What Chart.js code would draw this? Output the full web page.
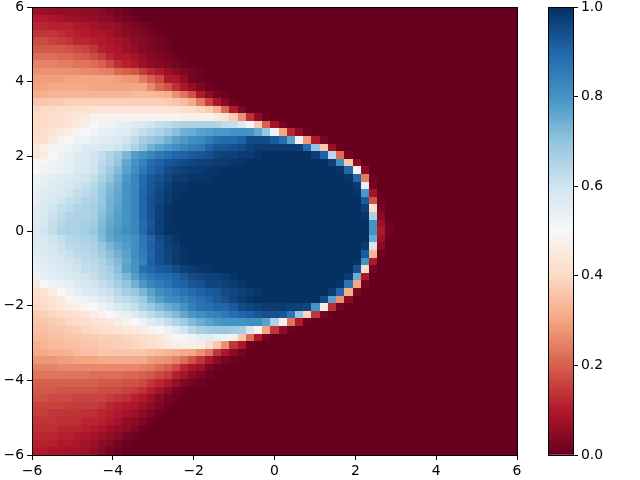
<!DOCTYPE html>
<html>
<head>
<meta charset="utf-8">
<style>
html,body{margin:0;padding:0;background:#fff;overflow:hidden}
canvas{position:absolute;top:0}
#heat{left:0}
#bar{left:520px}
</style>
<script src="https://cdn.jsdelivr.net/npm/chart.js@4/dist/chart.umd.js"></script>
</head>
<body>
<canvas id="heat" width="640" height="480"></canvas>
<canvas id="bar" width="120" height="480"></canvas>
<script>
// 59 x 59 cells between -6 and 6, same edges on both axes
const cellEdges=[-6,-5.797,-5.593,-5.39,-5.186,-4.983,-4.78,-4.576,-4.373,-4.169,-3.966,-3.763,-3.559,-3.356,-3.153,-2.949,-2.746,-2.542,-2.339,-2.136,-1.932,-1.729,-1.525,-1.322,-1.119,-0.915,-0.712,-0.508,-0.305,-0.102,0.102,0.305,0.508,0.712,0.915,1.119,1.322,1.525,1.729,1.932,2.136,2.339,2.542,2.746,2.949,3.153,3.356,3.559,3.763,3.966,4.169,4.373,4.576,4.78,4.983,5.186,5.39,5.593,5.797,6];
const axisTicks=[-6,-4,-2,0,2,4,6];
const barTicks=[0,0.2,0.4,0.6,0.8,1];
const stopValues=[0,0.1,0.2,0.3,0.4,0.5,0.6,0.7,0.8,0.9,1];
const stopColors=['#67001f','#b2182b','#d6604d','#f4a582','#fddbc7','#f7f7f7','#d1e5f0','#92c5de','#4393c3','#2166ac','#053061'];

// cell values in hundredths, top row (y=6) first
const row00=[7,7,6,6,6,6,5,5,4,3, 2,1,0,0,0,0,0,0,0,0, 0,0,0,0,0,0,0,0,0,0, 0,0,0,0,0,0,0,0,0,0, 0,0,0,0,0,0,0,0,0,0, 0,0,0,0,0,0,0,0,0];
const row01=[10,10,9,8,7,7,6,6,5,5, 3,2,1,0,0,0,0,0,0,0, 0,0,0,0,0,0,0,0,0,0, 0,0,0,0,0,0,0,0,0,0, 0,0,0,0,0,0,0,0,0,0, 0,0,0,0,0,0,0,0,0];
const row02=[12,12,11,11,11,10,9,8,7,7, 6,4,3,2,1,0,0,0,0,0, 0,0,0,0,0,0,0,0,0,0, 0,0,0,0,0,0,0,0,0,0, 0,0,0,0,0,0,0,0,0,0, 0,0,0,0,0,0,0,0,0];
const row03=[14,14,14,13,12,11,10,9,9,8, 6,5,4,3,2,1,0,0,0,0, 0,0,0,0,0,0,0,0,0,0, 0,0,0,0,0,0,0,0,0,0, 0,0,0,0,0,0,0,0,0,0, 0,0,0,0,0,0,0,0,0];
const row04=[17,17,16,15,14,12,12,11,10,9, 8,7,5,4,3,2,1,0,0,0, 0,0,0,0,0,0,0,0,0,0, 0,0,0,0,0,0,0,0,0,0, 0,0,0,0,0,0,0,0,0,0, 0,0,0,0,0,0,0,0,0];
const row05=[19,19,19,19,18,17,16,14,11,10, 9,7,6,4,3,2,1,0,0,0, 0,0,0,0,0,0,0,0,0,0, 0,0,0,0,0,0,0,0,0,0, 0,0,0,0,0,0,0,0,0,0, 0,0,0,0,0,0,0,0,0];
const row06=[22,22,22,21,21,20,19,17,15,12, 10,10,8,6,4,3,2,1,0,0, 0,0,0,0,0,0,0,0,0,0, 0,0,0,0,0,0,0,0,0,0, 0,0,0,0,0,0,0,0,0,0, 0,0,0,0,0,0,0,0,0];
const row07=[25,25,25,24,24,23,23,22,20,17, 13,11,10,7,5,4,3,2,1,0, 0,0,0,0,0,0,0,0,0,0, 0,0,0,0,0,0,0,0,0,0, 0,0,0,0,0,0,0,0,0,0, 0,0,0,0,0,0,0,0,0];
const row08=[27,27,27,27,27,27,26,26,25,24, 21,20,19,15,12,10,7,5,3,2, 1,0,0,0,0,0,0,0,0,0, 0,0,0,0,0,0,0,0,0,0, 0,0,0,0,0,0,0,0,0,0, 0,0,0,0,0,0,0,0,0];
const row09=[29,29,29,29,30,30,30,30,30,30, 29,28,28,24,20,17,10,9,6,2, 1,0,0,0,0,0,0,0,0,0, 0,0,0,0,0,0,0,0,0,0, 0,0,0,0,0,0,0,0,0,0, 0,0,0,0,0,0,0,0,0];
const row10=[30,30,31,31,31,31,31,30,30,30, 30,30,30,30,26,21,18,13,9,6, 3,1,0,0,0,0,0,0,0,0, 0,0,0,0,0,0,0,0,0,0, 0,0,0,0,0,0,0,0,0,0, 0,0,0,0,0,0,0,0,0];
const row11=[32,32,33,33,33,33,33,33,33,33, 33,33,34,34,34,33,32,27,23,18, 10,5,2,1,0,0,0,0,0,0, 0,0,0,0,0,0,0,0,0,0, 0,0,0,0,0,0,0,0,0,0, 0,0,0,0,0,0,0,0,0];
const row12=[36,36,37,37,38,38,38,38,38,38, 38,38,38,38,38,38,37,36,34,31, 24,16,9,4,1,0,0,0,0,0, 0,0,0,0,0,0,0,0,0,0, 0,0,0,0,0,0,0,0,0,0, 0,0,0,0,0,0,0,0,0];
const row13=[39,40,40,41,41,42,42,43,43,43, 43,44,44,44,44,43,43,43,42,41, 39,37,32,21,10,3,0,0,0,0, 0,0,0,0,0,0,0,0,0,0, 0,0,0,0,0,0,0,0,0,0, 0,0,0,0,0,0,0,0,0];
const row14=[40,40,41,42,43,44,45,47,48,48, 48,48,48,48,48,48,48,48,47,47, 47,48,45,42,37,27,13,5,1,0, 0,0,0,0,0,0,0,0,0,0, 0,0,0,0,0,0,0,0,0,0, 0,0,0,0,0,0,0,0,0];
const row15=[40,40,41,42,43,45,47,50,52,53, 54,55,57,58,60,62,63,65,66,66, 66,66,65,63,62,57,51,37,20,8, 2,0,0,0,0,0,0,0,0,0, 0,0,0,0,0,0,0,0,0,0, 0,0,0,0,0,0,0,0,0];
const row16=[40,41,43,45,47,49,50,52,54,55, 56,57,60,62,64,66,68,71,74,75, 77,78,79,79,80,80,80,76,69,52, 30,12,5,1,0,0,0,0,0,0, 0,0,0,0,0,0,0,0,0,0, 0,0,0,0,0,0,0,0,0];
const row17=[41,42,45,48,50,52,53,55,56,57, 58,60,63,67,69,71,74,77,79,81, 82,85,88,89,89,91,95,95,95,92, 88,77,52,28,10,2,0,0,0,0, 0,0,0,0,0,0,0,0,0,0, 0,0,0,0,0,0,0,0,0];
const row18=[44,47,49,51,53,54,56,57,58,58, 60,62,66,70,74,77,79,81,83,85, 86,90,93,93,94,95,97,98,98,98, 98,98,97,89,70,36,7,1,0,0, 0,0,0,0,0,0,0,0,0,0, 0,0,0,0,0,0,0,0,0];
const row19=[44,46,50,52,54,56,58,60,62,65, 68,73,78,80,83,86,88,90,91,92, 93,94,96,97,97,98,98,99,100,100, 100,100,100,100,97,91,64,22,2,0, 0,0,0,0,0,0,0,0,0,0, 0,0,0,0,0,0,0,0,0];
const row20=[49,51,52,54,55,57,58,60,63,66, 70,76,80,84,89,91,93,94,95,96, 97,97,98,98,99,99,100,100,100,100, 100,100,100,100,100,100,97,81,36,5, 0,0,0,0,0,0,0,0,0,0, 0,0,0,0,0,0,0,0,0];
const row21=[50,52,53,54,55,57,58,60,64,68, 72,77,81,86,90,92,95,96,97,98, 98,99,99,100,100,100,100,100,100,100, 100,100,100,100,100,100,100,99,90,48, 5,0,0,0,0,0,0,0,0,0, 0,0,0,0,0,0,0,0,0];
const row22=[53,54,55,56,57,59,60,62,66,70, 74,79,83,89,92,94,96,98,98,99, 99,99,100,100,100,100,100,100,100,100, 100,100,100,100,100,100,100,100,99,90, 24,1,0,0,0,0,0,0,0,0, 0,0,0,0,0,0,0,0,0];
const row23=[54,55,56,57,59,60,62,64,68,72, 75,80,83,89,93,95,97,99,99,100, 100,100,100,100,100,100,100,100,100,100, 100,100,100,100,100,100,100,100,100,98, 55,2,0,0,0,0,0,0,0,0, 0,0,0,0,0,0,0,0,0];
const row24=[55,56,57,58,60,62,63,65,69,73, 76,80,83,90,93,96,98,99,100,100, 100,100,100,100,100,100,100,100,100,100, 100,100,100,100,100,100,100,100,100,99, 79,8,0,0,0,0,0,0,0,0, 0,0,0,0,0,0,0,0,0];
const row25=[55,57,58,60,62,63,65,66,69,74, 76,80,83,90,94,96,98,100,100,100, 100,100,100,100,100,100,100,100,100,100, 100,100,100,100,100,100,100,100,100,100, 92,18,1,0,0,0,0,0,0,0, 0,0,0,0,0,0,0,0,0];
const row26=[56,58,60,62,63,65,66,67,70,74, 77,80,83,90,94,97,99,100,100,100, 100,100,100,100,100,100,100,100,100,100, 100,100,100,100,100,100,100,100,100,100, 97,41,2,0,0,0,0,0,0,0, 0,0,0,0,0,0,0,0,0];
const row27=[56,58,61,63,65,66,66,67,71,75, 78,80,83,90,94,97,99,100,100,100, 100,100,100,100,100,100,100,100,100,100, 100,100,100,100,100,100,100,100,100,100, 99,66,5,0,0,0,0,0,0,0, 0,0,0,0,0,0,0,0,0];
const row28=[57,59,62,64,66,66,67,68,72,76, 78,80,83,89,93,97,99,100,100,100, 100,100,100,100,100,100,100,100,100,100, 100,100,100,100,100,100,100,100,100,100, 100,80,7,1,0,0,0,0,0,0, 0,0,0,0,0,0,0,0,0];
const row29=[57,60,62,65,66,66,67,69,73,77, 79,81,83,89,94,97,100,100,100,100, 100,100,100,100,100,100,100,100,100,100, 100,100,100,100,100,100,100,100,100,100, 100,80,10,1,0,0,0,0,0,0, 0,0,0,0,0,0,0,0,0];
const row30=[57,58,60,62,64,65,66,67,72,76, 78,79,81,86,90,95,97,99,100,100, 100,100,100,100,100,100,100,100,100,100, 100,100,100,100,100,100,100,100,100,100, 100,75,7,0,0,0,0,0,0,0, 0,0,0,0,0,0,0,0,0];
const row31=[57,58,59,61,63,64,65,66,69,73, 76,78,81,86,91,94,97,98,100,100, 100,100,100,100,100,100,100,100,100,100, 100,100,100,100,100,100,100,100,100,100, 98,59,4,0,0,0,0,0,0,0, 0,0,0,0,0,0,0,0,0];
const row32=[56,57,58,60,61,63,64,65,68,71, 74,77,81,85,90,94,96,98,99,100, 100,100,100,100,100,100,100,100,100,100, 100,100,100,100,100,100,100,100,100,100, 92,33,1,0,0,0,0,0,0,0, 0,0,0,0,0,0,0,0,0];
const row33=[55,56,57,59,60,61,63,64,66,69, 72,76,80,84,91,94,96,98,99,100, 100,100,100,100,100,100,100,100,100,100, 100,100,100,100,100,100,100,100,100,99, 80,10,0,0,0,0,0,0,0,0, 0,0,0,0,0,0,0,0,0];
const row34=[54,55,56,58,59,60,62,63,65,67, 71,77,80,88,90,92,93,95,97,98, 99,99,100,100,100,100,100,100,100,100, 100,100,100,100,100,100,100,100,100,94, 40,2,0,0,0,0,0,0,0,0, 0,0,0,0,0,0,0,0,0];
const row35=[53,54,55,56,58,59,60,62,64,66, 69,73,78,83,86,88,89,91,93,95, 96,97,97,98,99,100,100,100,100,100, 100,100,100,100,100,100,100,100,98,75, 10,0,0,0,0,0,0,0,0,0, 0,0,0,0,0,0,0,0,0];
const row36=[45,50,52,54,55,57,59,60,62,64, 67,70,74,79,83,85,87,90,91,93, 94,96,96,97,98,99,100,100,100,100, 100,100,100,100,100,100,100,99,87,30, 2,0,0,0,0,0,0,0,0,0, 0,0,0,0,0,0,0,0,0];
const row37=[41,43,46,50,53,55,57,58,60,61, 64,67,69,73,77,81,83,85,87,89, 91,92,93,95,96,97,98,99,100,100, 100,100,100,100,100,100,98,90,32,3, 0,0,0,0,0,0,0,0,0,0, 0,0,0,0,0,0,0,0,0];
const row38=[40,41,43,45,49,51,53,54,56,59, 62,63,65,68,74,78,81,82,84,86, 88,90,92,94,96,98,99,100,100,100, 100,100,100,100,100,95,77,27,5,0, 0,0,0,0,0,0,0,0,0,0, 0,0,0,0,0,0,0,0,0];
const row39=[39,40,42,44,46,47,49,50,53,55, 58,60,62,66,69,72,75,77,80,84, 87,88,90,90,92,95,96,97,98,98, 98,97,97,96,80,47,13,2,0,0, 0,0,0,0,0,0,0,0,0,0, 0,0,0,0,0,0,0,0,0];
const row40=[37,38,39,40,41,42,44,46,48,50, 52,54,57,60,63,66,69,72,76,79, 81,83,84,86,88,90,91,93,94,94, 93,87,70,39,14,2,0,0,0,0, 0,0,0,0,0,0,0,0,0,0, 0,0,0,0,0,0,0,0,0];
const row41=[36,36,37,38,39,40,41,42,43,44, 46,48,50,53,56,59,62,65,68,72, 75,77,79,80,80,80,81,81,77,66, 47,23,10,1,0,0,0,0,0,0, 0,0,0,0,0,0,0,0,0,0, 0,0,0,0,0,0,0,0,0];
const row42=[35,35,36,36,37,38,39,40,41,42, 43,44,45,46,48,50,53,56,60,64, 67,68,69,69,68,67,59,48,30,14, 5,1,0,0,0,0,0,0,0,0, 0,0,0,0,0,0,0,0,0,0, 0,0,0,0,0,0,0,0,0];
const row43=[34,34,35,35,36,36,37,37,38,38, 38,39,40,41,42,44,47,49,51,53, 55,56,54,52,47,36,22,10,2,0, 0,0,0,0,0,0,0,0,0,0, 0,0,0,0,0,0,0,0,0,0, 0,0,0,0,0,0,0,0,0];
const row44=[32,33,34,34,35,35,36,36,37,37, 38,38,39,40,41,43,45,46,47,47, 46,41,36,27,14,9,1,0,0,0, 0,0,0,0,0,0,0,0,0,0, 0,0,0,0,0,0,0,0,0,0, 0,0,0,0,0,0,0,0,0];
const row45=[31,31,32,32,33,34,35,35,36,36, 36,36,36,36,35,34,33,32,31,30, 27,23,14,9,5,2,0,0,0,0, 0,0,0,0,0,0,0,0,0,0, 0,0,0,0,0,0,0,0,0,0, 0,0,0,0,0,0,0,0,0];
const row46=[28,28,28,29,29,30,30,30,31,31, 31,31,31,31,29,28,27,25,22,18, 14,9,5,2,1,0,0,0,0,0, 0,0,0,0,0,0,0,0,0,0, 0,0,0,0,0,0,0,0,0,0, 0,0,0,0,0,0,0,0,0];
const row47=[25,25,25,26,26,26,26,26,26,26, 26,26,26,25,24,22,20,17,12,9, 7,3,1,0,0,0,0,0,0,0, 0,0,0,0,0,0,0,0,0,0, 0,0,0,0,0,0,0,0,0,0, 0,0,0,0,0,0,0,0,0];
const row48=[23,23,23,23,23,23,23,22,22,22, 22,21,21,20,19,17,15,11,8,5, 3,1,0,0,0,0,0,0,0,0, 0,0,0,0,0,0,0,0,0,0, 0,0,0,0,0,0,0,0,0,0, 0,0,0,0,0,0,0,0,0];
const row49=[20,20,20,20,20,20,20,20,19,19, 19,18,18,17,14,12,10,6,3,2, 1,0,0,0,0,0,0,0,0,0, 0,0,0,0,0,0,0,0,0,0, 0,0,0,0,0,0,0,0,0,0, 0,0,0,0,0,0,0,0,0];
const row50=[19,19,19,18,18,18,18,18,17,17, 17,16,15,13,11,8,5,2,1,0, 0,0,0,0,0,0,0,0,0,0, 0,0,0,0,0,0,0,0,0,0, 0,0,0,0,0,0,0,0,0,0, 0,0,0,0,0,0,0,0,0];
const row51=[18,18,17,17,17,16,16,16,16,15, 14,13,11,10,7,4,2,1,0,0, 0,0,0,0,0,0,0,0,0,0, 0,0,0,0,0,0,0,0,0,0, 0,0,0,0,0,0,0,0,0,0, 0,0,0,0,0,0,0,0,0];
const row52=[16,16,16,16,15,15,15,15,14,12, 11,10,9,7,5,3,1,0,0,0, 0,0,0,0,0,0,0,0,0,0, 0,0,0,0,0,0,0,0,0,0, 0,0,0,0,0,0,0,0,0,0, 0,0,0,0,0,0,0,0,0];
const row53=[15,15,14,14,14,14,13,13,12,11, 10,8,7,5,3,1,0,0,0,0, 0,0,0,0,0,0,0,0,0,0, 0,0,0,0,0,0,0,0,0,0, 0,0,0,0,0,0,0,0,0,0, 0,0,0,0,0,0,0,0,0];
const row54=[14,14,14,13,13,13,12,12,11,10, 8,6,5,3,1,0,0,0,0,0, 0,0,0,0,0,0,0,0,0,0, 0,0,0,0,0,0,0,0,0,0, 0,0,0,0,0,0,0,0,0,0, 0,0,0,0,0,0,0,0,0];
const row55=[13,13,13,12,12,12,11,10,9,7, 6,5,3,1,0,0,0,0,0,0, 0,0,0,0,0,0,0,0,0,0, 0,0,0,0,0,0,0,0,0,0, 0,0,0,0,0,0,0,0,0,0, 0,0,0,0,0,0,0,0,0];
const row56=[12,12,12,11,11,10,9,8,7,6, 4,2,1,0,0,0,0,0,0,0, 0,0,0,0,0,0,0,0,0,0, 0,0,0,0,0,0,0,0,0,0, 0,0,0,0,0,0,0,0,0,0, 0,0,0,0,0,0,0,0,0];
const row57=[11,11,11,10,10,9,8,7,5,4, 2,1,0,0,0,0,0,0,0,0, 0,0,0,0,0,0,0,0,0,0, 0,0,0,0,0,0,0,0,0,0, 0,0,0,0,0,0,0,0,0,0, 0,0,0,0,0,0,0,0,0];
const row58=[10,10,9,9,8,8,7,6,4,2, 1,0,0,0,0,0,0,0,0,0, 0,0,0,0,0,0,0,0,0,0, 0,0,0,0,0,0,0,0,0,0, 0,0,0,0,0,0,0,0,0,0, 0,0,0,0,0,0,0,0,0];
const heatRows=[row00,row01,row02,row03,row04,row05,row06,row07,row08,row09,row10,row11,row12,row13,row14,row15,row16,row17,row18,row19,row20,row21,row22,row23,row24,row25,row26,row27,row28,row29,row30,row31,row32,row33,row34,row35,row36,row37,row38,row39,row40,row41,row42,row43,row44,row45,row46,row47,row48,row49,row50,row51,row52,row53,row54,row55,row56,row57,row58];

const FONT={family:'"DejaVu Sans"',size:13.9};

function hexRgb(h){
  return [parseInt(h.slice(1,3),16),parseInt(h.slice(3,5),16),parseInt(h.slice(5,7),16)];
}
function colorFor(v){
  let i=0;
  while(i<stopValues.length-2 && v>stopValues[i+1]) i++;
  const t=(v-stopValues[i])/(stopValues[i+1]-stopValues[i]);
  const a=hexRgb(stopColors[i]), b=hexRgb(stopColors[i+1]);
  return `rgb(${a.map((c,k)=>Math.round(c+(b[k]-c)*t)).join(',')})`;
}

const heatCells={
  id:'heatCells',
  beforeDatasetsDraw(chart){
    const {ctx,scales:{x,y}}=chart;
    const n=heatRows.length;
    heatRows.forEach((row,r)=>{
      const top=Math.round(y.getPixelForValue(cellEdges[n-r]));
      const bot=Math.round(y.getPixelForValue(cellEdges[n-r-1]));
      row.forEach((v,c)=>{
        const l=Math.round(x.getPixelForValue(cellEdges[c]));
        const w=Math.round(x.getPixelForValue(cellEdges[c+1]))-l;
        ctx.fillStyle=colorFor(v/100);
        ctx.fillRect(l,top,w,bot-top);
      });
    });
  }
};

// outline round the plot, like the axes box
const frame={
  id:'frame',
  afterDraw(chart){
    const {ctx,chartArea:a}=chart;
    ctx.save();
    ctx.strokeStyle='#000';
    ctx.lineWidth=1;
    ctx.strokeRect(Math.round(a.left)+0.5,Math.round(a.top)+0.5,Math.round(a.right-a.left),Math.round(a.bottom-a.top));
    ctx.restore();
  }
};

function noPad(s){
  s.paddingLeft=0; s.paddingRight=0; s.paddingTop=0; s.paddingBottom=0;
}
function axisOpts(ticks,fmt){
  return {
    type:'linear',
    min:ticks[0],
    max:ticks[ticks.length-1],
    grid:{drawOnChartArea:false,drawTicks:true,tickLength:5,tickColor:'#000',tickWidth:1},
    border:{display:false},
    afterBuildTicks(s){ s.ticks=ticks.map(v=>({value:v})); },
    ticks:{color:'#000',font:FONT,padding:3,maxRotation:0,autoSkip:false,callback:fmt}
  };
}
const minusFmt=v=>String(v).replace('-','\u2212');

new Chart(document.getElementById('heat'),{
  type:'scatter',
  data:{datasets:[{data:[],pointRadius:0}]},
  plugins:[heatCells,frame],
  options:{
    responsive:false,
    animation:false,
    layout:{padding:{top:7,right:123,left:0,bottom:0}},
    plugins:{legend:{display:false},tooltip:{enabled:false}},
    scales:{
      x:Object.assign(axisOpts(axisTicks,minusFmt),{afterFit(s){s.height=25;noPad(s);}}),
      y:Object.assign(axisOpts(axisTicks,minusFmt),{afterFit(s){s.width=32;noPad(s);}})
    }
  }
});

new Chart(document.getElementById('bar'),{
  type:'bar',
  data:{labels:['v'],datasets:[{
    data:[[barTicks[0],barTicks[barTicks.length-1]]],
    barPercentage:1,
    categoryPercentage:1,
    backgroundColor(c){
      const a=c.chart.chartArea;
      if(!a) return stopColors[0];
      const g=c.chart.ctx.createLinearGradient(0,a.bottom,0,a.top);
      stopValues.forEach((v,i)=>g.addColorStop(v,stopColors[i]));
      return g;
    }
  }]},
  plugins:[frame],
  options:{
    responsive:false,
    animation:false,
    layout:{padding:{top:7,left:28,right:0,bottom:25}},
    plugins:{legend:{display:false},tooltip:{enabled:false}},
    scales:{
      x:{display:false},
      y:Object.assign(axisOpts(barTicks,v=>v.toFixed(1)),{position:'right',afterFit(s){s.width=67;noPad(s);}})
    }
  }
});
</script>
</body>
</html>
